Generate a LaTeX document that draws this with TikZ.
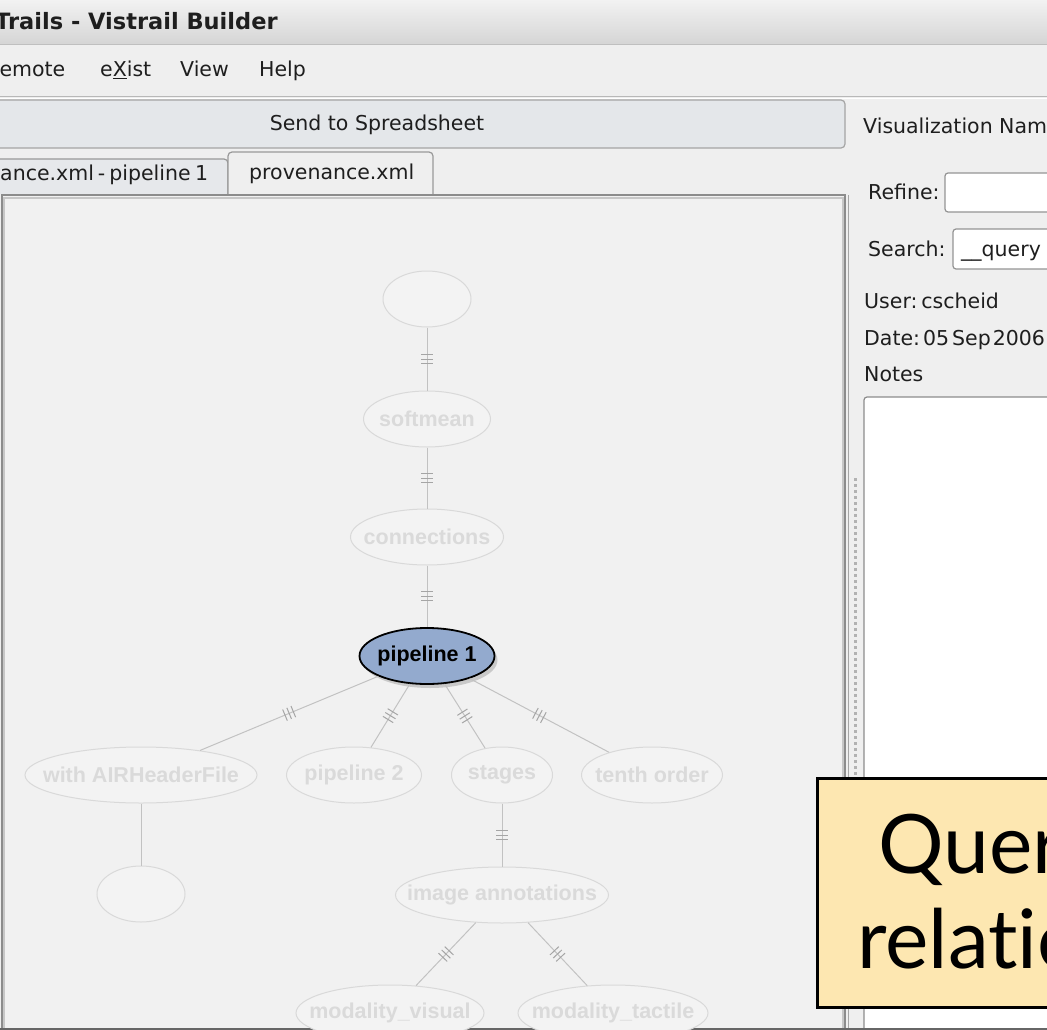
\documentclass[tikz,border=0pt]{standalone}
\usepackage{fontspec}
\setmainfont{DejaVu Sans}
\newfontfamily\nodefont{Liberation Sans}
\newfontfamily\callfont[Ligatures={NoCommon,NoRequired,NoContextual}]{Lato}
\usetikzlibrary{shapes.geometric,decorations.markings,shadows}
\definecolor{guibg}{HTML}{EFEFEF}
\definecolor{titletop}{HTML}{F2F2F2}
\definecolor{titlebot}{HTML}{D5D5D5}
\definecolor{btnfill}{HTML}{E4E7EA}
\definecolor{btnline}{HTML}{A4A4A4}
\definecolor{tabin}{HTML}{E6E8EB}
\definecolor{canvasbg}{HTML}{F1F1F1}
\definecolor{nodefill}{HTML}{F3F3F3}
\definecolor{nodeline}{HTML}{D9D9D9}
\definecolor{nodetext}{HTML}{DADADA}
\definecolor{edgec}{HTML}{C2C2C2}
\definecolor{pipefill}{HTML}{93AACE}
\definecolor{callfill}{HTML}{FDE7B1}
\definecolor{guitext}{HTML}{1E1E1E}
\begin{document}
\begin{tikzpicture}[x=1pt,y=-1pt,
  gui/.style={font=\fontsize{20.5}{24}\selectfont, text=guitext, inner sep=0pt, anchor=base west},
  gnode/.style={ellipse, draw=nodeline, fill=nodefill, line width=1pt, inner sep=0pt,
    minimum height=56, text=nodetext, font=\nodefont\bfseries\fontsize{21.5}{24}\selectfont},
  pnode/.style={gnode, draw=black, line width=1.8pt, fill=pipefill, text=black,
    drop shadow={shadow xshift=3pt, shadow yshift=-4pt, opacity=0.35}},
  plainedge/.style={draw=edgec, line width=1pt},
  hashed/.style={plainedge, postaction={decorate},
    decoration={markings, mark=at position 0.5 with {
      \draw[line width=1pt, draw=edgec!85!black] (-4.5pt,-6pt) -- (-4.5pt,6pt) (0pt,-6pt) -- (0pt,6pt) (4.5pt,-6pt) -- (4.5pt,6pt);}}},
  callbox/.style={draw=black, line width=3pt, fill=callfill},
  calltext/.style={font=\callfont\fontsize{82}{90}\selectfont, text=black, inner sep=0pt, anchor=base west},
  field/.style={draw=black!42, line width=1.2pt, fill=white, rounded corners=3pt}
]
\useasboundingbox (0,0) rectangle (1047,1030);
\clip (0,0) rectangle (1047,1030);
\fill[guibg] (0,0) rectangle (1047,1030);

% title bar
\shade[top color=titletop, bottom color=titlebot] (0,0) rectangle (1047,44);
\draw[black!25] (0,44.5) -- (1047,44.5);
\node[gui, font=\bfseries\fontsize{22.5}{26}\selectfont, anchor=base west] (title) at (-5,30) {Trails - Vistrail Builder};

% menu bar
\node[gui] (mremote) at (-14,77) {Remote};
\node[gui] (mexist) at (100,77) {e\underline{X}ist};
\node[gui] (mview) at (180,77) {View};
\node[gui] (mhelp) at (259,77) {Help};
\draw[black!28] (0,96.5) -- (1047,96.5);
\draw[white] (0,98) -- (1047,98);

% button
\draw[rounded corners=4pt, fill=btnfill, draw=btnline, line width=1.2pt] (-10,100) rectangle (845,148);
\node[gui, anchor=base] (send) at (377,131) {Send to Spreadsheet};
\node[gui] (vname) at (863,134) {Visualization Nam};

% tabs
\draw[rounded corners=4pt, fill=tabin, draw=black!40, line width=1.2pt] (-10,194) -- (-10,159) -- (228,159) -- (228,194);
\node[gui] (tab1) at (0,181) {ance.xml\hspace{4pt}-\hspace{4pt}pipeline\hspace{4.5pt}1};
\draw[rounded corners=4pt, fill=guibg, draw=black!40, line width=1.2pt] (228,196) -- (228,152) -- (433,152) -- (433,196);
\node[gui] (tab2) at (249,179) {provenance.xml};

% canvas frame
\fill[canvasbg] (2,195) rectangle (845,1028);
\draw[black!45, line width=1.2pt] (2,1028) -- (2,195) -- (845,195) -- (845,1028);
\draw[black!22, line width=1.2pt] (4,1028) -- (4,198) -- (843,198) -- (843,1028);

% splitter
\draw[black!35, line width=1pt] (848,195) -- (848,1030);
\foreach \yy in {478,484,...,776} {\fill[black!30] (854,\yy) rectangle (857,\yy+2.5);}

% right panel
\node[gui] (refine) at (868,199) {Refine:};
\draw[field] (945,173) rectangle (1060,212);
\node[gui] (search) at (868,256) {Search:};
\draw[field] (953,229) rectangle (1060,269);
\node[gui] (query) at (961,256) {\_\_query};
\node[gui] (user) at (864,308) {User:\hspace{4pt}cscheid};
\node[gui] (date) at (864,345) {Date:\hspace{3pt}05\hspace{3pt}Sep\hspace{2pt}2006};
\node[gui] (notes) at (864,381) {Notes};
\draw[field, draw=black!45] (864,397) rectangle (1060,1040);

% window bottom line
\draw[black!60, line width=2pt] (0,1029) -- (1047,1029);

% graph nodes
\node[gnode, minimum width=88] (top) at (427,299) {};
\node[gnode, minimum width=127] (soft) at (427,419) {\makebox[0pt]{softmean}};
\node[gnode, minimum width=153] (conn) at (427,537) {\makebox[0pt]{connections}};
\node[pnode, minimum width=135] (p1) at (427,656) {\makebox[0pt]{pipeline 1}};
\node[gnode, minimum width=232] (air) at (141,775) {\makebox[0pt]{with AIRHeaderFile}};
\node[gnode, minimum width=135] (p2) at (354,775) {\makebox[0pt]{pipeline 2}};
\node[gnode, minimum width=101] (stages) at (502,775) {\makebox[0pt]{stages}};
\node[gnode, minimum width=141] (tenth) at (652,775) {\makebox[0pt]{tenth order}};
\node[gnode, minimum width=88] (circ) at (141,894) {};
\node[gnode, minimum width=213] (img) at (502,895) {\makebox[0pt]{image annotations}};
\node[gnode, minimum width=188] (mv) at (390,1013) {\makebox[0pt]{modality\_visual}};
\node[gnode, minimum width=190] (mt) at (613,1013) {\makebox[0pt]{modality\_tactile}};

% graph edges
\draw[hashed] (top) -- (soft);
\draw[hashed] (soft) -- (conn);
\draw[hashed] (conn) -- (p1);
\draw[hashed] (p1) -- (air);
\draw[hashed] (p1) -- (p2);
\draw[hashed] (p1) -- (stages);
\draw[hashed] (p1) -- (tenth);
\draw[plainedge] (air) -- (circ);
\draw[hashed] (stages) -- (img);
\draw[hashed] (img) -- (mv);
\draw[hashed] (img) -- (mt);

% callout
\draw[callbox] (817,778) rectangle (1070,1007);
\node[calltext] (q1) at (878,873) {Quer};
\node[calltext] (q2) at (857,968) {relat\kern0pt io};
\end{tikzpicture}
\end{document}
